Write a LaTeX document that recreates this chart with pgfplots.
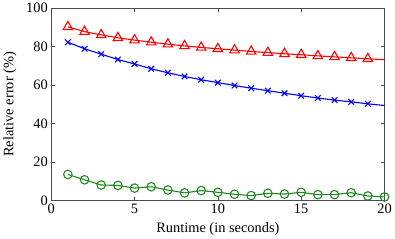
\documentclass[border=0pt]{standalone}
\usepackage{pgfplots}
\pgfplotsset{compat=1.18}
\usepackage{fontspec}
\setmainfont{Liberation Serif}
\definecolor{mgreen}{rgb}{0.13,0.53,0.13}
\begin{document}
\begin{tikzpicture}
\begin{axis}[
  scale only axis, width=336pt, height=194pt,
  xmin=0, xmax=20, ymin=0, ymax=100,
  xtick={0,5,...,20}, ytick={0,20,...,100},
  tick align=inside, tick pos=both,
  major tick length=4pt,
  axis line style={black!70, line width=0.7pt},
  tick style={black!70, line width=0.6pt},
  every tick label/.append style={font=\fontsize{14.5}{16}\selectfont},
  yticklabel style={xshift=0pt},
  /pgf/number format/assume math mode=true,
  xlabel={Runtime (in seconds)}, ylabel={Relative error (\%)},
  label style={font=\fontsize{14.5}{16}\selectfont},
  xlabel style={yshift=-2pt}, ylabel style={yshift=3pt},
]
\addplot[red, line width=1.1pt, mark=triangle, mark size=5.5pt, mark options={line width=1.1pt}, mark indices={1,...,19}] coordinates {
(1,90.3)(2,87.8)(3,86.1)(4,84.6)(5,83.4)(6,82.3)(7,81.3)(8,80.4)(9,79.6)(10,78.9)(11,78.2)(12,77.5)(13,76.9)(14,76.3)(15,75.8)(16,75.2)(17,74.7)(18,74.2)(19,73.7)(20,73.2)};
\addplot[blue, line width=1.1pt, mark=x, mark size=4pt, mark options={line width=1.1pt}, mark indices={1,...,19}] coordinates {
(1,82.3)(2,78.9)(3,76.1)(4,73.3)(5,71.0)(6,68.5)(7,66.4)(8,64.5)(9,62.8)(10,61.3)(11,59.8)(12,58.4)(13,57.1)(14,55.8)(15,54.5)(16,53.3)(17,52.2)(18,51.3)(19,50.3)(20,49.4)};
\addplot[mgreen, line width=1.1pt, mark=o, mark size=4.3pt, mark options={line width=1.1pt}] coordinates {
(1,13.6)(2,10.8)(3,8.1)(4,7.9)(5,6.5)(6,7.2)(7,5.5)(8,4.0)(9,5.2)(10,4.3)(11,3.3)(12,2.6)(13,3.8)(14,3.4)(15,4.3)(16,3.1)(17,3.1)(18,4.1)(19,2.4)(20,1.9)};
\end{axis}
\end{tikzpicture}
\end{document}
